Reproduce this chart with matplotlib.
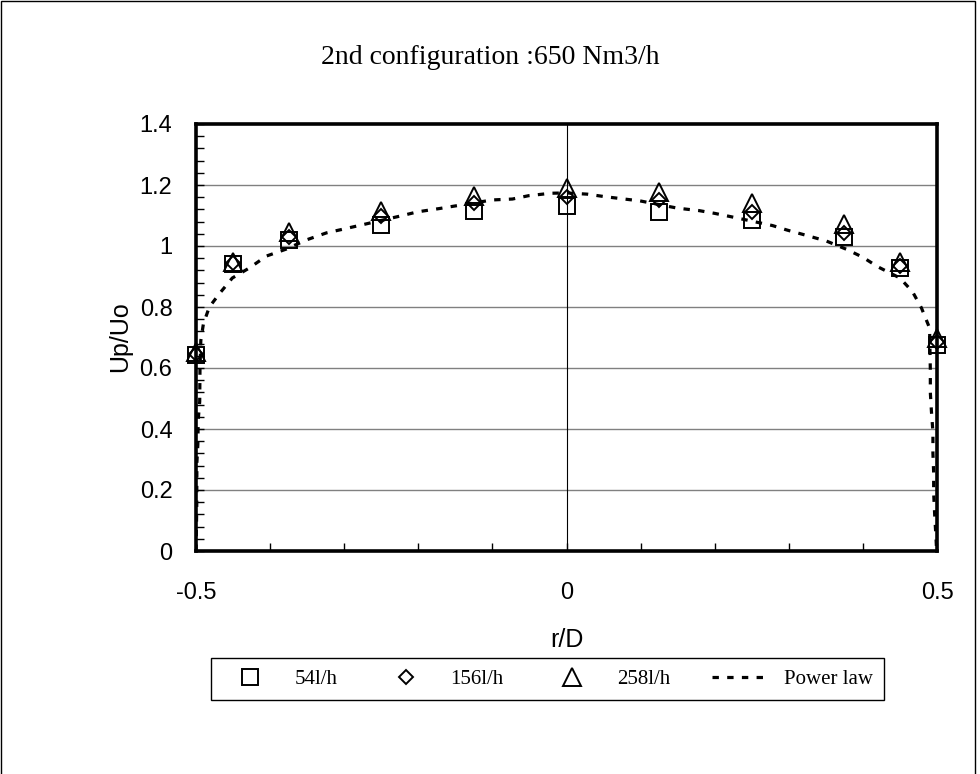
import matplotlib
matplotlib.use("Agg")
import matplotlib.pyplot as plt
from matplotlib.patches import Rectangle
from matplotlib.ticker import MultipleLocator

# ---- data ----
r_pos = [-0.5, -0.45, -0.375, -0.25, -0.125, 0.0, 0.125, 0.25, 0.375, 0.45, 0.5]
u_54 = [0.642, 0.941, 1.02, 1.07, 1.115, 1.13, 1.112, 1.084, 1.03, 0.927, 0.675]
u_156 = [0.647, 0.945, 1.03, 1.10, 1.142, 1.162, 1.15, 1.11, 1.043, 0.935, 0.685]
u_258 = [0.652, 0.948, 1.045, 1.115, 1.165, 1.189, 1.178, 1.141, 1.073, 0.948, 0.698]

pl_r = [-0.5, -0.4995, -0.499, -0.4988, -0.4975, -0.497, -0.495, -0.4946, -0.4935,
        -0.49, -0.482, -0.468, -0.451, -0.428, -0.405, -0.378, -0.351, -0.324, -0.30,
        -0.273, -0.223, -0.201, -0.171, -0.151, -0.10, -0.073, -0.051, -0.021, 0.0,
        0.028, 0.051, 0.078, 0.099, 0.15, 0.179, 0.20, 0.228, 0.278, 0.298, 0.325,
        0.351, 0.378, 0.40, 0.42, 0.45, 0.467, 0.479, 0.49, 0.491, 0.491, 0.4925,
        0.4945, 0.4945, 0.4955, 0.4955, 0.497, 0.4985, 0.4995]
pl_u = [0.0, 0.06, 0.15, 0.29, 0.35, 0.43, 0.49, 0.60, 0.69,
        0.745, 0.80, 0.845, 0.895, 0.928, 0.967, 0.99, 1.02, 1.043, 1.056,
        1.071, 1.099, 1.112, 1.123, 1.131, 1.151, 1.154, 1.165, 1.173, 1.174,
        1.17, 1.162, 1.154, 1.148, 1.124, 1.116, 1.107, 1.093, 1.067, 1.052, 1.034,
        1.016, 0.989, 0.963, 0.932, 0.895, 0.85, 0.797, 0.731, 0.593, 0.52, 0.457,
        0.39, 0.32, 0.256, 0.19, 0.112, 0.05, 0.0]

series_labels = ["54l/h", "156l/h", "258l/h", "Power law"]
title_text = "2nd configuration :650 Nm3/h"
xticks = [-0.5, 0.0, 0.5]
xtick_labels = ["-0.5", "0", "0.5"]
yticks = [0, 0.2, 0.4, 0.6, 0.8, 1.0, 1.2, 1.4]
ytick_labels = ["0", "0.2", "0.4", "0.6", "0.8", "1", "1.2", "1.4"]

# ---- figure ----
fig = plt.figure(figsize=(9.8, 7.74), dpi=100)
ax = fig.add_axes([196/980, 1-551/774, (937-196)/980, (551-124)/774])

sans = "Liberation Sans"
serif = "Liberation Serif"

for y in yticks[1:-1]:
    ax.axhline(y, color="#808080", lw=1.0, zorder=1)
ax.axvline(0, color="black", lw=0.8, zorder=1)

line, = ax.plot(pl_r, pl_u, color="black", lw=2.3, dashes=(2.0, 2.6),
                zorder=2, label=series_labels[3], dash_capstyle="butt")
h1, = ax.plot(r_pos, u_54, ls="none", marker="s", ms=12.2, mfc="none",
              mec="black", mew=1.4, zorder=3, label=series_labels[0], clip_on=False)
h2, = ax.plot(r_pos, u_156, ls="none", marker="D", ms=7.5, mfc="none",
              mec="black", mew=1.4, zorder=4, label=series_labels[1], clip_on=False)
h3, = ax.plot(r_pos, u_258, ls="none", marker="^", ms=12.5, mfc="none",
              mec="black", mew=1.4, zorder=5, label=series_labels[2], clip_on=False)

ax.set_xlim(-0.5, 0.5)
ax.set_ylim(0, 1.4)
ax.set_xticks(xticks)
ax.set_xticklabels(xtick_labels, fontfamily=sans, fontsize=17)
ax.set_yticks(yticks)
ax.set_yticklabels(ytick_labels, fontfamily=sans, fontsize=17)
ax.xaxis.set_minor_locator(MultipleLocator(0.1))
ax.yaxis.set_minor_locator(MultipleLocator(0.04))
ax.tick_params(axis="both", which="major", direction="in", length=6, width=1,
               color="black")
ax.tick_params(axis="both", which="minor", direction="in", length=6, width=1,
               color="black")
ax.tick_params(axis="x", which="major", pad=22)
ax.tick_params(axis="y", which="major", pad=17)
for s in ax.spines.values():
    s.set_linewidth(2.6)
    s.set_color("black")

fig.text(567/980, 1-640/774, "r/D", ha="center", va="center",
         fontfamily=sans, fontsize=18)
fig.text(120/980, 1-337/774, "Up/Uo", ha="center", va="center", rotation=90,
         fontfamily=sans, fontsize=18)

fig.text(490/980, 1-58/774, title_text, ha="center", va="center",
         fontfamily=serif, fontsize=20)

leg = fig.legend(handles=[h1, h2, h3, line], labels=series_labels,
                 loc="center", bbox_to_anchor=(211/980, 1-702/774, (884-211)/980, 46/774),
                 mode="expand", ncol=4, frameon=True, fancybox=False,
                 edgecolor="black", framealpha=1, borderaxespad=0,
                 handlelength=2.6, handletextpad=0.85, columnspacing=0.6,
                 prop={"family": serif, "size": 15}, borderpad=0.55)
leg.get_frame().set_linewidth(1.0)

# outer border
fig.patches.append(Rectangle((1/980, -0.05), 974/980, 1.05-1/774, transform=fig.transFigure,
                             fill=False, edgecolor="black", lw=1.0))

fig.savefig("out.png", dpi=100)
